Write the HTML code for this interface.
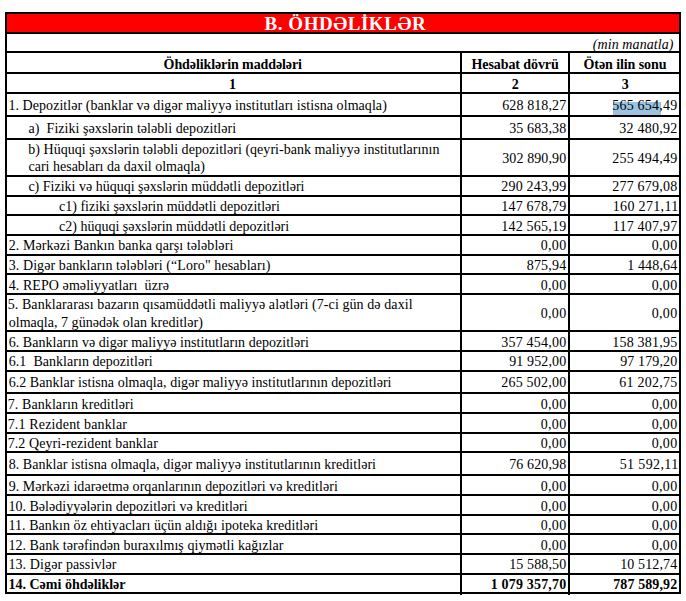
<!DOCTYPE html>
<html><head><meta charset="utf-8"><style>
html,body{margin:0;padding:0;background:#fff;width:686px;height:601px;overflow:hidden;position:relative}
.l{position:absolute;background:#000}
.t{position:absolute;font-family:"Liberation Serif",serif;font-size:14px;line-height:14px;white-space:pre;color:#000}
.b{font-weight:bold}
.i{font-style:italic}
</style></head><body>
<div style="position:absolute;left:7px;top:14px;width:672px;height:18px;background:#ff0000"></div>
<div style="position:absolute;left:613px;top:102px;width:48px;height:13px;background:#9dc3e2"></div>
<div class="l" style="left:5px;top:12px;width:676px;height:2px"></div>
<div class="l" style="left:5px;top:32px;width:676px;height:2px"></div>
<div class="l" style="left:5px;top:51px;width:676px;height:2px"></div>
<div class="l" style="left:5px;top:72px;width:676px;height:2px"></div>
<div class="l" style="left:5px;top:92px;width:676px;height:2px"></div>
<div class="l" style="left:5px;top:115px;width:676px;height:2px"></div>
<div class="l" style="left:5px;top:138px;width:676px;height:2px"></div>
<div class="l" style="left:5px;top:175px;width:676px;height:2px"></div>
<div class="l" style="left:5px;top:195px;width:676px;height:2px"></div>
<div class="l" style="left:5px;top:214px;width:676px;height:2px"></div>
<div class="l" style="left:5px;top:234px;width:676px;height:2px"></div>
<div class="l" style="left:5px;top:254px;width:676px;height:2px"></div>
<div class="l" style="left:5px;top:273px;width:676px;height:2px"></div>
<div class="l" style="left:5px;top:293px;width:676px;height:2px"></div>
<div class="l" style="left:5px;top:330px;width:676px;height:2px"></div>
<div class="l" style="left:5px;top:350px;width:676px;height:2px"></div>
<div class="l" style="left:5px;top:370px;width:676px;height:2px"></div>
<div class="l" style="left:5px;top:392px;width:676px;height:2px"></div>
<div class="l" style="left:5px;top:412px;width:676px;height:2px"></div>
<div class="l" style="left:5px;top:432px;width:676px;height:2px"></div>
<div class="l" style="left:5px;top:451px;width:676px;height:2px"></div>
<div class="l" style="left:5px;top:474px;width:676px;height:2px"></div>
<div class="l" style="left:5px;top:494px;width:676px;height:2px"></div>
<div class="l" style="left:5px;top:514px;width:676px;height:2px"></div>
<div class="l" style="left:5px;top:533px;width:676px;height:2px"></div>
<div class="l" style="left:5px;top:553px;width:676px;height:2px"></div>
<div class="l" style="left:5px;top:573px;width:676px;height:2px"></div>
<div class="l" style="left:5px;top:592px;width:676px;height:2px"></div>
<div class="l" style="left:5px;top:12px;width:2px;height:582px"></div>
<div class="l" style="left:679px;top:12px;width:2px;height:582px"></div>
<div class="l" style="left:460px;top:51px;width:2px;height:544px"></div>
<div class="l" style="left:568px;top:51px;width:2px;height:544px"></div>
<div id="r0l0" class="t" style="top:99px;letter-spacing:0.059px;left:8.40px;">1. Depozitlər (banklar və digər maliyyə institutları istisna olmaqla)</div>
<div id="r0c2" class="t" style="top:99px;letter-spacing:0.111px;right:119.69px;">628 818,27</div>
<div id="r0c3" class="t" style="top:99px;letter-spacing:0.222px;right:8.58px;">565 654,49</div>
<div id="r1l0" class="t" style="top:122px;letter-spacing:0.051px;left:28.50px;">a)  Fiziki şəxslərin tələbli depozitləri</div>
<div id="r1c2" class="t" style="top:122px;letter-spacing:0.125px;right:119.67px;">35 683,38</div>
<div id="r1c3" class="t" style="top:122px;letter-spacing:0.250px;right:8.55px;">32 480,92</div>
<div id="r2l0" class="t" style="top:143px;letter-spacing:0.034px;left:28.25px;">b) Hüquqi şəxslərin tələbli depozitləri (qeyri-bank maliyyə institutlarının</div>
<div id="r2l1" class="t" style="top:160px;left:28.50px;">cari hesabları da daxil olmaqla)</div>
<div id="r2c2" class="t" style="top:152px;letter-spacing:0.111px;right:119.69px;">302 890,90</div>
<div id="r2c3" class="t" style="top:152px;letter-spacing:0.222px;right:8.58px;">255 494,49</div>
<div id="r3l0" class="t" style="top:180px;letter-spacing:0.000px;left:28.40px;">c) Fiziki və hüquqi şəxslərin müddətli depozitləri</div>
<div id="r3c2" class="t" style="top:180px;letter-spacing:0.222px;right:119.58px;">290 243,99</div>
<div id="r3c3" class="t" style="top:180px;letter-spacing:0.222px;right:8.58px;">277 679,08</div>
<div id="r4l0" class="t" style="top:200px;letter-spacing:0.000px;left:59.00px;">c1) fiziki şəxslərin müddətli depozitləri</div>
<div id="r4c2" class="t" style="top:200px;letter-spacing:0.222px;right:119.58px;">147 678,79</div>
<div id="r4c3" class="t" style="top:200px;letter-spacing:0.333px;right:7.47px;">160 271,11</div>
<div id="r5l0" class="t" style="top:220px;left:59.00px;">c2) hüquqi şəxslərin müddətli depozitləri</div>
<div id="r5c2" class="t" style="top:220px;letter-spacing:0.222px;right:119.58px;">142 565,19</div>
<div id="r5c3" class="t" style="top:220px;letter-spacing:0.222px;right:8.58px;">117 407,97</div>
<div id="r6l0" class="t" style="top:239px;letter-spacing:0.079px;left:8.70px;">2. Mərkəzi Bankın banka qarşı tələbləri</div>
<div id="r6c2" class="t" style="top:239px;letter-spacing:0.333px;right:119.47px;">0,00</div>
<div id="r6c3" class="t" style="top:239px;letter-spacing:0.333px;right:8.47px;">0,00</div>
<div id="r7l0" class="t" style="top:259px;letter-spacing:0.087px;left:8.70px;">3. Digər bankların tələbləri (“Loro" hesabları)</div>
<div id="r7c2" class="t" style="top:259px;letter-spacing:0.200px;right:119.60px;">875,94</div>
<div id="r7c3" class="t" style="top:259px;letter-spacing:0.143px;right:8.66px;">1 448,64</div>
<div id="r8l0" class="t" style="top:279px;letter-spacing:0.077px;left:8.70px;">4. REPO əməliyyatları  üzrə</div>
<div id="r8c2" class="t" style="top:279px;letter-spacing:0.333px;right:119.47px;">0,00</div>
<div id="r8c3" class="t" style="top:279px;letter-spacing:0.333px;right:8.47px;">0,00</div>
<div id="r9l0" class="t" style="top:298px;letter-spacing:0.085px;left:7.70px;">5. Banklararası bazarın qısamüddətli maliyyə alətləri (7-ci gün də daxil</div>
<div id="r9l1" class="t" style="top:316px;letter-spacing:0.030px;left:8.70px;">olmaqla, 7 günədək olan kreditlər)</div>
<div id="r9c2" class="t" style="top:307px;letter-spacing:0.333px;right:119.47px;">0,00</div>
<div id="r9c3" class="t" style="top:307px;letter-spacing:0.333px;right:8.47px;">0,00</div>
<div id="r10l0" class="t" style="top:336px;letter-spacing:0.037px;left:8.70px;">6. Bankların və digər maliyyə institutların depozitləri</div>
<div id="r10c2" class="t" style="top:336px;letter-spacing:0.222px;right:119.58px;">357 454,00</div>
<div id="r10c3" class="t" style="top:336px;letter-spacing:0.222px;right:8.58px;">158 381,95</div>
<div id="r11l0" class="t" style="top:355px;letter-spacing:0.040px;left:8.70px;">6.1  Bankların depozitləri</div>
<div id="r11c2" class="t" style="top:355px;letter-spacing:0.125px;right:119.67px;">91 952,00</div>
<div id="r11c3" class="t" style="top:355px;letter-spacing:0.125px;right:8.67px;">97 179,20</div>
<div id="r12l0" class="t" style="top:376px;letter-spacing:0.043px;left:8.70px;">6.2 Banklar istisna olmaqla, digər maliyyə institutlarının depozitləri</div>
<div id="r12c2" class="t" style="top:376px;letter-spacing:0.222px;right:119.58px;">265 502,00</div>
<div id="r12c3" class="t" style="top:376px;letter-spacing:0.250px;right:8.55px;">61 202,75</div>
<div id="r13l0" class="t" style="top:398px;letter-spacing:0.091px;left:7.70px;">7. Bankların kreditləri</div>
<div id="r13c2" class="t" style="top:398px;letter-spacing:0.333px;right:119.47px;">0,00</div>
<div id="r13c3" class="t" style="top:398px;letter-spacing:0.333px;right:8.47px;">0,00</div>
<div id="r14l0" class="t" style="top:418px;letter-spacing:0.158px;left:7.70px;">7.1 Rezident banklar</div>
<div id="r14c2" class="t" style="top:418px;letter-spacing:0.333px;right:119.47px;">0,00</div>
<div id="r14c3" class="t" style="top:418px;letter-spacing:0.333px;right:8.47px;">0,00</div>
<div id="r15l0" class="t" style="top:437px;letter-spacing:0.080px;left:7.70px;">7.2 Qeyri-rezident banklar</div>
<div id="r15c2" class="t" style="top:437px;letter-spacing:0.333px;right:119.47px;">0,00</div>
<div id="r15c3" class="t" style="top:437px;letter-spacing:0.333px;right:8.47px;">0,00</div>
<div id="r16l0" class="t" style="top:458px;letter-spacing:0.045px;left:8.70px;">8. Banklar istisna olmaqla, digər maliyyə institutlarının kreditləri</div>
<div id="r16c2" class="t" style="top:458px;letter-spacing:0.125px;right:119.67px;">76 620,98</div>
<div id="r16c3" class="t" style="top:458px;letter-spacing:0.375px;right:7.42px;">51 592,11</div>
<div id="r17l0" class="t" style="top:480px;letter-spacing:0.052px;left:8.70px;">9. Mərkəzi idarəetmə orqanlarının depozitləri və kreditləri</div>
<div id="r17c2" class="t" style="top:480px;letter-spacing:0.333px;right:119.47px;">0,00</div>
<div id="r17c3" class="t" style="top:480px;letter-spacing:0.333px;right:8.47px;">0,00</div>
<div id="r18l0" class="t" style="top:500px;letter-spacing:0.023px;left:8.40px;">10. Bələdiyyələrin depozitləri və kreditləri</div>
<div id="r18c2" class="t" style="top:500px;letter-spacing:0.333px;right:119.47px;">0,00</div>
<div id="r18c3" class="t" style="top:500px;letter-spacing:0.333px;right:8.47px;">0,00</div>
<div id="r19l0" class="t" style="top:519px;letter-spacing:0.073px;left:8.40px;">11. Bankın öz ehtiyacları üçün aldığı ipoteka kreditləri</div>
<div id="r19c2" class="t" style="top:519px;letter-spacing:0.333px;right:119.47px;">0,00</div>
<div id="r19c3" class="t" style="top:519px;letter-spacing:0.333px;right:8.47px;">0,00</div>
<div id="r20l0" class="t" style="top:539px;letter-spacing:0.043px;left:8.40px;">12. Bank tərəfindən buraxılmış qiymətli kağızlar</div>
<div id="r20c2" class="t" style="top:539px;letter-spacing:0.333px;right:119.47px;">0,00</div>
<div id="r20c3" class="t" style="top:539px;letter-spacing:0.333px;right:8.47px;">0,00</div>
<div id="r21l0" class="t" style="top:558px;letter-spacing:0.111px;left:8.40px;">13. Digər passivlər</div>
<div id="r21c2" class="t" style="top:558px;letter-spacing:0.125px;right:119.67px;">15 588,50</div>
<div id="r21c3" class="t" style="top:558px;letter-spacing:0.125px;right:8.67px;">10 512,74</div>
<div id="r22l0" class="t b" style="top:578px;letter-spacing:0.000px;left:8.50px;">14. Cəmi öhdəliklər</div>
<div id="r22c2" class="t b" style="top:578px;letter-spacing:0.182px;right:119.62px;">1 079 357,70</div>
<div id="r22c3" class="t b" style="top:578px;letter-spacing:0.111px;right:8.69px;">787 589,92</div>
<div id="title" class="t b" style="top:14px;font-size:19px;line-height:19px;color:#fff;letter-spacing:0.525px;left:264.60px;">B. ÖHDƏLİKLƏR</div>
<div id="min" class="t i" style="top:38px;letter-spacing:0.083px;right:12.42px;">(min manatla)</div>
<div id="h1" class="t b" style="top:58px;letter-spacing:-0.095px;left:163.60px;">Öhdəliklərin maddələri</div>
<div id="h2" class="t b" style="top:58px;letter-spacing:-0.083px;left:471.50px;">Hesabat dövrü</div>
<div id="h3" class="t b" style="top:58px;letter-spacing:-0.077px;left:583.50px;">Ötən ilin sonu</div>
<div id="n1" class="t b" style="top:78px;left:229.00px;">1</div>
<div id="n2" class="t b" style="top:78px;left:511.80px;">2</div>
<div id="n3" class="t b" style="top:78px;left:621.80px;">3</div>
</body></html>
